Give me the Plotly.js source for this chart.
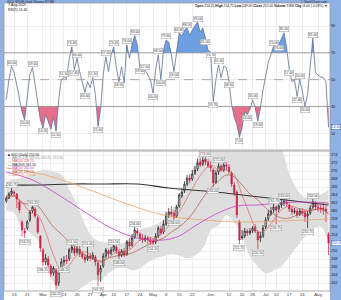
<!DOCTYPE html>
<html><head><meta charset="utf-8">
<script src="https://cdn.plot.ly/plotly-3.0.1.min.js"></script>
<style>html,body{margin:0;padding:0;background:#fff;}#chart{width:341px;height:300px;}</style>
</head><body><div id="chart"></div>
<script>
const titleText = "GLD SPDR Gold Shares NYSE";
const dateText = "7-Aug-2023";
const volumeText = "9.8M";

const openP = [262.5,263.25,264.25,264.75,264.25,262.25,257.25,255,255.75,257.75,
260,260.5,258.25,253.75,250.25,247.25,248,246.25,244.5,245.25,
242,245.25,247.25,247.75,248,250.25,250.75,249.75,250.5,249.25,
248.5,248,248.75,248.25,248.5,247,244.75,246.25,248.75,250,
249.5,250.25,251,249.75,249,250,249.25,252.25,251.5,253.5,
255,254.25,253.25,252.75,253.25,252.75,252.5,252.25,253.75,255.5,
254.75,256.75,259,259.75,259.5,258.75,261.25,263.75,265,266.75,
268.25,268,269.5,270.5,272.25,271.75,273,272.25,271.25,270.25,
267.25,269.75,271.25,270.25,271.5,271,269.5,266.5,264.75,257.25,
253.25,253.75,255,254.5,255,256,254.75,253.25,253.75,256,
258,259.25,260.25,261,260.5,261.5,262,262.25,261.5,260.5,
259.75,260,259.25,260,259.5,258.75,259.5,261,262,261,
260.75,260.75,260.5,254.25];
const highP = [263.75,264.75,265.75,265.25,264.5,262.75,257.75,255.75,257.75,260.25,
261.25,261,258.75,254,250.75,249.25,248.75,246.75,246.25,245.75,
245.75,248.25,248.75,249,250.75,251.5,251.25,251.25,251.25,250,
249.25,251,249.5,249.75,249,247.5,246.5,249.5,250.75,250.5,
251,251.5,251.5,250.5,250.5,250.75,252.75,253.25,254.25,256,
255.75,254.75,254.25,254,253.75,253.5,253,254.5,256.25,256.25,
257.75,259.75,260.75,261.25,260.25,261.5,264.5,265.75,267.5,269,
269.25,270.25,271.25,273,273.25,273.5,273.5,273,272.5,270.75,
270.25,272,271.75,272.25,272.25,271.75,270,267.25,265.25,257.75,
255.25,255.75,255.5,255.75,256.25,256.75,255.25,254.75,256.5,258.5,
260.25,261,261.75,261.5,262,262.75,263,263,262,261.25,
260.75,260.5,260.75,260.75,260.25,260,261.5,263,262.5,261.75,
261.5,262.25,261.25,254.75];
const lowP = [262,263,264,263.75,260.75,259.5,253.75,253.25,255.25,257.25,
259.5,258.25,254.25,249.75,246.25,246.5,245.75,243.5,243.75,240.25,
241.25,244.5,246.25,246.75,247.5,249.5,248.75,249.25,248.5,248,
247,247.5,247.5,247.75,246.25,241.25,242.25,245.75,248.25,248.5,
249,249.75,249.25,248,248.5,248.5,248.75,250.5,251,253,
253.75,252.5,252,252.25,251.75,251.5,251.5,251.75,253.25,254,
254.25,256.25,258.25,258.5,258,258.25,260.75,263.25,264.5,266.25,
267,267.5,269,270,271,271.25,271.5,270.75,269.75,266,
266.75,269,269.75,269.75,270.25,269.25,266,263.75,258.25,251.75,
252.75,253.25,253.75,254,254.5,254.5,250.5,252.25,253.25,255.5,
257.5,258.75,259.5,256.75,259.75,260.75,261.25,261,259.75,259,
259.25,258.25,258.75,258.75,257.25,255.75,259,260.5,260.25,259.75,
259.5,259,257.25,249];
const closeP = [263.25,264.25,265,264.5,263,260.25,255.25,254.5,257.25,259.75,
261,258.75,254.75,250.75,247.25,248.25,246.5,244.25,245.75,241.5,
244.75,247.25,247.75,247.5,250.25,251,249.5,250.5,249.25,248.5,
247.75,248.75,248.25,249,247.25,244,245.75,248.75,250.25,249.25,
250.25,251.25,250,248.75,250,249,252.25,251.25,253.25,255.25,
254.5,253.25,252.75,253.25,252.75,252.25,252,253.75,255.75,254.5,
256.75,259,259.75,259.25,258.5,261,264,264.75,266.75,268.25,
267.75,269.25,270.25,272,271.5,272.75,272.25,271.25,270.75,267,
269.5,271.25,270.25,271.5,271.25,269.75,266.75,264.5,259,252.75,
253.75,255,254.5,255,255.75,255,252.75,253.75,255.75,257.75,
259.25,260,261,260.25,261.25,262,262.5,261.75,260.5,259.75,
260,259,260,259.5,258.5,259.25,260.75,262.25,261,260.75,
260.5,260.5,260,252];

const rsiVals = [35,50,60,55,46,35,26,20,39,54,
59,46,31,20,14,24,19,13,22,11.5,
35,50,51.5,51,65,74.4,57.4,66,56,48.5,
40.4,48.5,44,51.5,39,15,28,54,67,56,
68.5,74.4,59,48.5,59.6,47.8,76,66,76,83,
76,59,54,57,54,50,40,57,68.5,50,
72,79.6,78,68.5,56,72,84.8,82.6,87,88.5,
83,87,90,93,85.5,88.5,81,72,70.7,33.7,
50,61,51.5,60,59,48.5,31.5,22,16.6,7,
14.4,26,24,28,35,29,19,29,42.6,53.7,
63,68.5,75,72,76,81,85,73.7,57.4,48.5,
50,37.4,50,41,30,39,61,81,55,53.7,
52,51.5,48.5,14.4];

const bbIdx = [0,3,6,9,12,15,18,21,24,27,30,33,36,39,42,45,48,51,54,57,60,63,66,69,72,75,78,81,84,87,90,93,96,99,102,105,108,111,114,117,120,123];
const bbUpper = [267.25,267.75,268.25,268.75,269.75,270.25,269.75,269,265.25,261.5,256.5,253.25,252.25,252,251.75,252,253.75,255.25,255.75,256.5,257.75,260.25,262.75,267.25,271.5,275.75,276.5,276.5,275.25,276.5,279,279.75,280.25,279,277.75,275.25,269,265.25,263.25,263.75,264,265.25];
const bbLower = [260.25,259.75,255.75,254.75,252.75,247.25,242.25,239.75,239.5,240.25,241.5,242.75,242.75,244.5,245.75,246,245.25,245.75,247.25,248.25,248.75,249.25,249,248.25,249,250.75,255.25,256.5,259,257.25,254,248.75,246.25,244.5,245.25,246.25,248.75,251.25,253.75,255.5,256.25,252.5];
const ma20 = [263.75,263.75,262,261.75,261.25,258.75,256,254.25,252.25,250.75,249,248,247.5,248.25,248.75,249,249.5,250.5,251.5,252.5,253.25,254.75,256,257.75,260.25,263.25,265.75,267.5,269,268.5,266.5,264.25,262.75,260.75,259.25,258.25,258.25,259,259.75,260.25,260.5,259.5];
const ma10 = [263.25,263.75,262.25,259.75,259,254.75,249,245.25,246.5,249,249.75,248.75,247.25,248.25,249.75,249.75,250.75,252.75,253.25,253.25,254.75,257.25,259.75,263.25,266.75,269.75,271.5,270.25,270.25,269,264,259,254.75,255.25,257.75,260.25,261.25,260.75,260.25,260.25,260.5,259.25];
const ma200Idx = [0,12,25,37,50,62,80,90,100,110,123];
const ma200 = [266.5,266.5,266.75,266.75,266.75,265.75,264.75,264,263.25,262.5,261.5];
const ma50Idx = [0,10,20,30,40,50,60,66,72,80,88,96,104,112,123];
const ma50 = [269.75,267.75,264,259.75,255.75,253.25,252.75,253.75,256.25,259.25,261.25,261.5,262,262.25,262];
const ma100Idx = [0,15,30,45,60,75,90,105,123];
const ma100 = [270.75,269,265.75,262,259,257.75,257.25,257.5,258];

const tickIdx = [3,8,14,17,22,27,32,37,41,46,51,56,61,66,71,78,85,90,94,99,103,108,113,119];
const tickText = ['13','21','Mar','6','13','20','27','Apr','10','17','24','May','8','15','22','Jun','12','20','26','Jul','10','17','24','Aug'];
const rsiTicks = [10,30,50,70,90];
const priceTicks = [242,244,246,248,250,252,254,256,258,260,262,264,266,268,270,272,274];

const rsiLabelIdx = [2,7,10,14,19,22,25,26,27,30,33,35,38,41,43,46,49,51,53,56,58,59,61,64,66,69,73,76,78,79,81,85,89,92,94,96,102,104,106,108,111,112,114,117];
const priceLabelIdx = [2,7,10,14,19,22,25,31,35,41,43,49,56,64,76,79,81,89,96,102,103,106,115,117];

// ---------- build ----------
const n = closeP.length;
const idx = closeP.map((_, i) => i);
const py = v => (291 - v) / 288;
const px = v => (v - 4) / 326;
const last = a => a[a.length - 1];
const f2 = v => v.toFixed(2);

function band(level, above) {
  const xs = [], ys = [];
  for (let i = 0; i < n; i++) {
    const v = rsiVals[i];
    if (i > 0) {
      const p = rsiVals[i - 1];
      if ((p - level) * (v - level) < 0) { xs.push(i - 1 + (level - p) / (v - p)); ys.push(level); }
    }
    xs.push(i); ys.push(above ? Math.max(v, level) : Math.min(v, level));
  }
  return { xs, ys };
}
const hi = band(70, true), lo = band(30, false);
const traces = [];
traces.push({ x: hi.xs, y: hi.xs.map(() => 70), xaxis: 'x2', yaxis: 'y2', mode: 'lines', line: { width: 0 }, hoverinfo: 'skip' });
traces.push({ x: hi.xs, y: hi.ys, xaxis: 'x2', yaxis: 'y2', mode: 'lines', line: { width: 0 }, fill: 'tonexty', fillcolor: '#6e9fe2', hoverinfo: 'skip' });
traces.push({ x: lo.xs, y: lo.xs.map(() => 30), xaxis: 'x2', yaxis: 'y2', mode: 'lines', line: { width: 0 }, hoverinfo: 'skip' });
traces.push({ x: lo.xs, y: lo.ys, xaxis: 'x2', yaxis: 'y2', mode: 'lines', line: { width: 0 }, fill: 'tonexty', fillcolor: '#e6708c', hoverinfo: 'skip' });
traces.push({ x: idx, y: rsiVals, xaxis: 'x2', yaxis: 'y2', mode: 'lines', line: { color: '#5f7196', width: 0.8 } });

// price panel: band on the base axis, candles and averages on an overlay axis above it
traces.push({ x: bbIdx, y: bbUpper, xaxis: 'x', yaxis: 'y', mode: 'lines', line: { color: '#d2d2d2', width: 0.5, shape: 'spline' } });
traces.push({ x: bbIdx, y: bbLower, xaxis: 'x', yaxis: 'y', mode: 'lines', line: { color: '#d2d2d2', width: 0.5, shape: 'spline' }, fill: 'tonexty', fillcolor: '#dedede' });
traces.push({
  type: 'candlestick', x: idx, open: openP, high: highP, low: lowP, close: closeP, xaxis: 'x', yaxis: 'y3',
  increasing: { line: { color: '#111111', width: 0.7 }, fillcolor: '#ffffff' },
  decreasing: { line: { color: '#cc1f45', width: 0.7 }, fillcolor: '#cc1f45' },
  whiskerwidth: 0
});
traces.push({ x: ma200Idx, y: ma200, xaxis: 'x', yaxis: 'y3', mode: 'lines', line: { color: '#333333', width: 1.2, shape: 'spline' } });
traces.push({ x: ma100Idx, y: ma100, xaxis: 'x', yaxis: 'y3', mode: 'lines', line: { color: '#eaa46a', width: 0.8, shape: 'spline' } });
traces.push({ x: ma50Idx, y: ma50, xaxis: 'x', yaxis: 'y3', mode: 'lines', line: { color: '#c63fc6', width: 0.8, shape: 'spline' } });
traces.push({ x: bbIdx, y: ma20, xaxis: 'x', yaxis: 'y3', mode: 'lines', line: { color: '#a3422c', width: 0.6, shape: 'spline' } });
traces.push({ x: bbIdx, y: ma10, xaxis: 'x', yaxis: 'y3', mode: 'lines', line: { color: '#e04a4a', width: 0.6, shape: 'spline' } });

const shapes = [];
const blue = '#8fb1e3';
shapes.push({ type: 'rect', xref: 'paper', yref: 'paper', x0: -4 / 326, x1: 0, y0: -9 / 288, y1: 1 + 3 / 288, fillcolor: blue, line: { width: 0 }, layer: 'below' });
shapes.push({ type: 'rect', xref: 'paper', yref: 'paper', x0: 1, x1: 1 + 11 / 326, y0: -9 / 288, y1: 1 + 3 / 288, fillcolor: blue, line: { width: 0 }, layer: 'below' });
shapes.push({ type: 'rect', xref: 'paper', yref: 'paper', x0: -4 / 326, x1: 1 + 11 / 326, y0: 1, y1: 1 + 3 / 288, fillcolor: blue, line: { width: 0 }, layer: 'below' });
[70, 30].forEach(l => shapes.push({ type: 'line', xref: 'paper', yref: 'y2', x0: 0, x1: 1, y0: l, y1: l, line: { color: '#8a8a8a', width: 0.8 } }));
shapes.push({ type: 'line', xref: 'paper', yref: 'y2', x0: 0, x1: 1, y0: 50, y1: 50, line: { color: '#8a8a8a', width: 0.7, dash: 'dash' } });
shapes.push({ type: 'rect', xref: 'paper', yref: 'paper', x0: 0, x1: 1, y0: 0.4896, y1: 1, line: { color: '#9a9a9a', width: 0.8 } });
shapes.push({ type: 'rect', xref: 'paper', yref: 'paper', x0: 0, x1: 1, y0: 0, y1: 0.486, line: { color: '#9a9a9a', width: 0.8 } });

const ann = [];
const small = (t, x, y, xa, size, color) => ({ text: t, xref: 'paper', yref: 'paper', x: x, y: y, xanchor: xa, yanchor: 'middle', showarrow: false, font: { size: size, color: color || '#111' } });
ann.push(small(titleText, px(5), py(1.6), 'left', 3.4, '#0d1f3c'));
ann.push(small('© StockCharts.com', px(329), py(1.5), 'right', 3, '#0d1f3c'));
ann.push(small(dateText, px(5.5), py(5.3), 'left', 3.4));
const pc = closeP[n - 2], lc = last(closeP), ch = lc - pc;
ann.push(small('<b>Open</b> ' + f2(last(openP)) + ' <b>High</b> ' + f2(last(highP)) + ' <b>Low</b> ' + f2(last(lowP)) + ' <b>Close</b> ' + f2(lc) + ' <b>Volume</b> ' + volumeText + ' <b>Chg</b> ' + f2(ch) + ' (' + f2(ch / pc * 100) + '%) ▼', px(329), py(6), 'right', 3.3));
ann.push(small('RSI(5) ' + f2(last(rsiVals)), px(5.5), py(9.8), 'left', 3.4));

const legendLines = [
  ['■ GLD (Daily) ' + f2(lc), '#000000'],
  ['— BB(20,2.0) ' + f2(last(ma20)) + ', ' + f2(last(bbUpper)) + ', ' + f2(last(bbLower)), '#888888'],
  ['— MA(10) ' + f2(last(ma10)), '#e04a4a'],
  ['— MA(200) ' + f2(last(ma200)), '#222222'],
  ['— MA(50) ' + f2(last(ma50)), '#c63fc6'],
  ['— MA(20) ' + f2(last(ma20)), '#a3422c'],
  ['— MA(100) ' + f2(last(ma100)), '#e09a5a']
];
legendLines.forEach((l, k) => ann.push(small(l[0], px(5.5), py(154.5 + k * 3.4), 'left', 3.3, l[1])));

rsiLabelIdx.forEach(i => {
  const v = rsiVals[i];
  const a = i > 0 ? rsiVals[i - 1] : v, b = i < n - 1 ? rsiVals[i + 1] : v;
  const peak = v >= a && v >= b;
  ann.push({ text: f2(v), xref: 'x2', yref: 'y2', x: i, y: v, showarrow: false, yanchor: peak ? 'bottom' : 'top', yshift: peak ? 0.5 : -0.5,
    font: { size: 3.3, color: '#333' }, bgcolor: '#ffffff', bordercolor: '#9a9a9a', borderwidth: 0.5, borderpad: 0.3 });
});
priceLabelIdx.forEach(i => {
  const a = i > 0 ? highP[i - 1] : highP[i], b = i < n - 1 ? highP[i + 1] : highP[i];
  const peak = highP[i] >= a && highP[i] >= b;
  const v = peak ? highP[i] : lowP[i];
  ann.push({ text: f2(v), xref: 'x', yref: 'y3', x: i, y: v, showarrow: false, yanchor: peak ? 'bottom' : 'top', yshift: peak ? 0.5 : -0.5,
    font: { size: 3.3, color: '#333' }, bgcolor: '#ffffff', bordercolor: '#9a9a9a', borderwidth: 0.5, borderpad: 0.3 });
});
// the last-price tag sits on the axis; the tick label it covers is left blank
const lc2 = lc;
const priceTickText = priceTicks.map(t => Math.abs(t - lc2) < 1.2 ? '' : String(t));
ann.push({ text: f2(lc), xref: 'paper', yref: 'y', x: 1, y: lc, xanchor: 'left', xshift: 0.5, showarrow: false, font: { size: 3.4, color: '#1a4fb0' }, bgcolor: '#ffffff', bordercolor: '#1a4fb0', borderwidth: 0.5, borderpad: 0.3 });
ann.push({ text: f2(last(rsiVals)), xref: 'paper', yref: 'y2', x: 1, y: last(rsiVals), xanchor: 'left', xshift: 0.5, showarrow: false, font: { size: 3.4, color: '#1a4fb0' }, bgcolor: '#ffffff', bordercolor: '#1a4fb0', borderwidth: 0.5, borderpad: 0.3 });

const xr = [-0.88, 123.55];
const priceRange = [240, 275];
const layout = {
  width: 341, height: 300, margin: { l: 4, r: 11, t: 3, b: 9, pad: 0 },
  paper_bgcolor: '#ffffff', plot_bgcolor: '#ffffff', showlegend: false,
  font: { family: 'Liberation Sans, Arial, sans-serif', size: 4.5, color: '#222' },
  xaxis: { domain: [0, 1], range: xr, anchor: 'y', tickvals: tickIdx, ticktext: tickText, ticks: '', showgrid: true, gridcolor: '#e3e3e3', gridwidth: 0.6, zeroline: false, showline: false, tickfont: { size: 4.3, color: '#333' }, rangeslider: { visible: false }, fixedrange: true },
  xaxis2: { domain: [0, 1], range: xr, anchor: 'y2', tickvals: tickIdx, showticklabels: false, ticks: '', showgrid: true, gridcolor: '#e3e3e3', gridwidth: 0.6, zeroline: false, showline: false },
  yaxis: { domain: [0, 0.486], range: priceRange, side: 'right', tickvals: priceTicks, ticktext: priceTickText, ticks: '', showgrid: true, gridcolor: '#e3e3e3', gridwidth: 0.6, zeroline: false, tickfont: { size: 3.8, color: '#111' } },
  yaxis3: { overlaying: 'y', anchor: 'x', range: priceRange, side: 'right', showticklabels: false, showgrid: false, zeroline: false, ticks: '' },
  yaxis2: { domain: [0.4896, 1], range: [-2.5, 107.2], side: 'right', tickvals: rsiTicks, ticks: '', showgrid: true, gridcolor: '#e3e3e3', gridwidth: 0.6, zeroline: false, tickfont: { size: 3.8, color: '#111' } },
  shapes: shapes, annotations: ann
};
Plotly.newPlot('chart', traces, layout, { staticPlot: true, displayModeBar: false });
</script></body></html>
